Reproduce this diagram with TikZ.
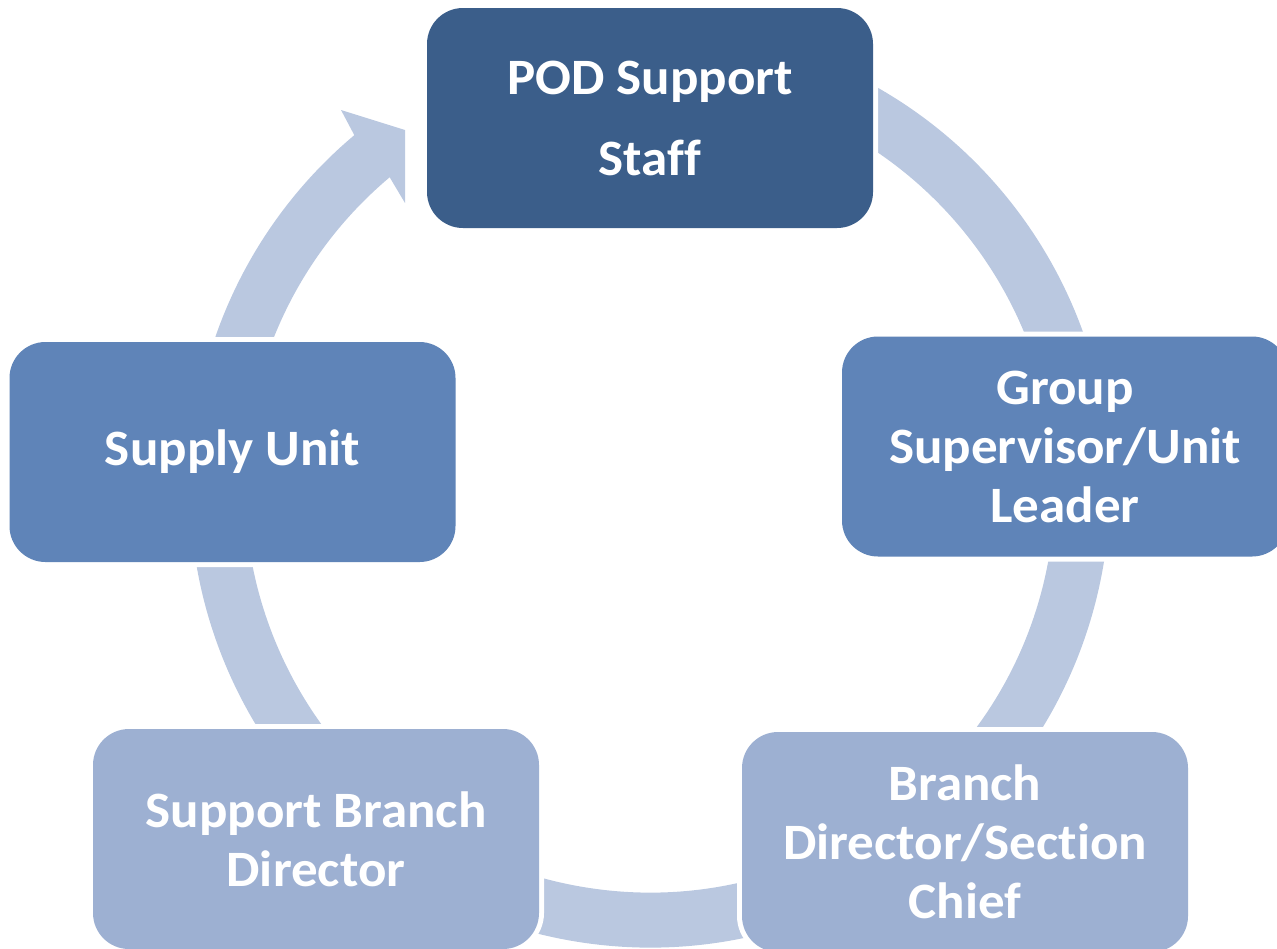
\documentclass[tikz,border=0pt]{standalone}
\usepackage{fontspec}
\setmainfont{Carlito}[Ligatures=NoCommon, FakeStretch=1.04]
\definecolor{darkstage}{HTML}{3B5E8A}
\definecolor{midstage}{HTML}{5F84B8}
\definecolor{lightstage}{HTML}{9DB0D2}
\definecolor{ringblue}{HTML}{BAC8E0}
\begin{document}
\begin{tikzpicture}[x=0.5pt,y=-0.5pt,
  stage/.style={rectangle, rounded corners=18pt, minimum width=223pt,
    minimum height=110pt, inner sep=0pt, text=white, align=center,
    font=\bfseries\fontsize{25.5}{29.5}\selectfont,
    preaction={draw=white, line width=5pt}},
  ring/.style={draw=ringblue, line width=27.5pt},
  ringhead/.style={fill=ringblue}]
\clip (0,0) rectangle (1277,948);

% circular arrow running clockwise behind the stages
\coordinate (ringcentre) at (650,487.5);
\coordinate (tail) at (725.1,61.6);
\draw[ring] (tail) arc[start angle=-80, end angle=231, radius=432.5];
\fill[ringhead] (341,110) -- (405,130) -- (405,203) -- (389.7,177.3)
  -- (354.3,135.1) -- cycle;

% stages
\node[stage, fill=darkstage, font=\bfseries\fontsize{25.5}{40.5}\selectfont]
  (pod) at (650,118) {POD Support\\Staff};
\node[stage, fill=midstage] (group) at (1065,446.5) {Group\\Supervisor/Unit\\Leader};
\node[stage, fill=lightstage] (branch) at (965,842) {Branch\\Director/Section\\Chief};
\node[stage, fill=lightstage] (support) at (316,839) {Support Branch\\Director};
\node[stage, fill=midstage] (supply) at (232.5,452) {Supply Unit};
\end{tikzpicture}
\end{document}
